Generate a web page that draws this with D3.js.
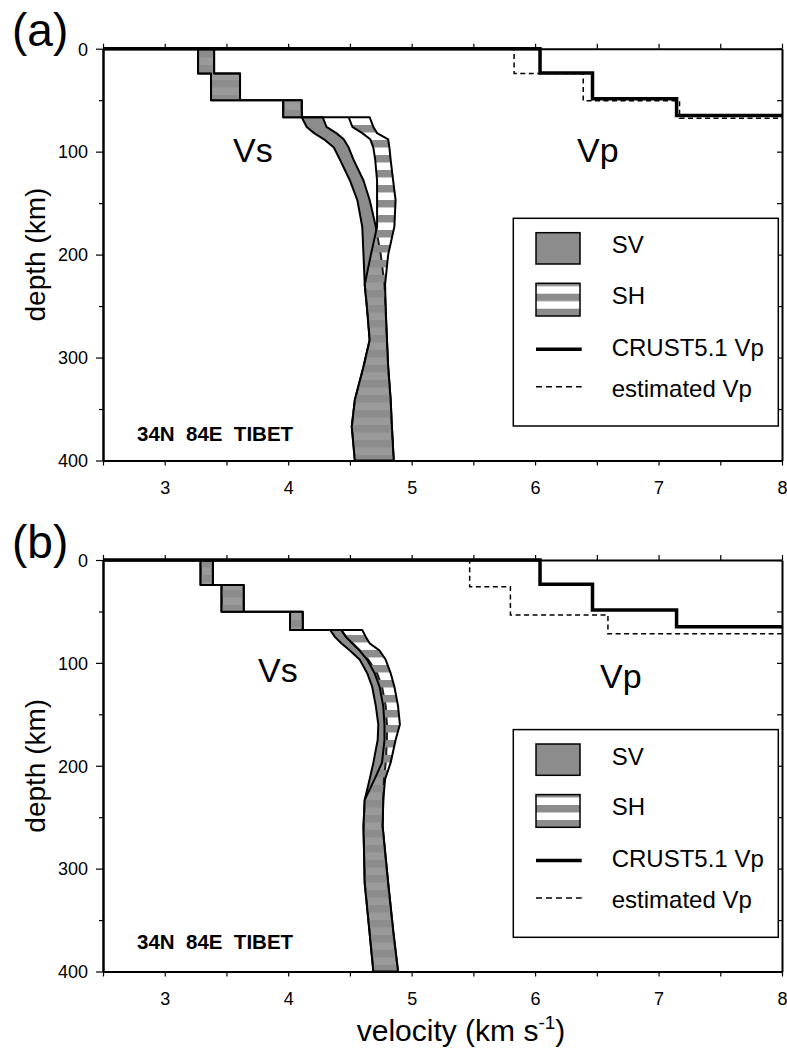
<!DOCTYPE html>
<html><head><meta charset="utf-8">
<script src="https://cdn.jsdelivr.net/npm/d3@7"></script>
<style>
body{margin:0;background:#fff}
svg{display:block}
text{font-family:"Liberation Sans",Arial,Helvetica,sans-serif;fill:#000}
</style>
</head><body>
<svg id="c" width="787" height="1048"></svg>
<script>
// ---------------- data ----------------
const velocityDomain = [2.5, 8];
const depthDomain = [0, 400];
const velocityMajorTicks = [3, 4, 5, 6, 7, 8];
const velocityMinorTicks = [2.5, 3, 3.5, 4, 4.5, 5, 5.5, 6, 6.5, 7, 7.5, 8];
const depthMajorTicks = [0, 100, 200, 300, 400];
const depthAllTicks = [0, 50, 100, 150, 200, 250, 300, 350, 400];
const depthMinorTicks = [50, 150, 250, 350];

const legendLabels = ["SV", "SH", "CRUST5.1 Vp", "estimated Vp"];
const panelLabels = ["(a)", "(b)"];
const locationLabel = "34N  84E  TIBET";

// CRUST5.1 Vp (layer tops, km; velocities, km/s)
const crustVpTops = [0, 23.5, 48.5, 65];
const crustVp = [6.04, 6.465, 7.146, 8.1];

// estimated Vp
const estVpTopsA = [0, 24, 50.5, 67.5];
const estVpA = [5.83, 6.39, 7.17, 8.1];
const estVpTopsB = [0, 25.9, 53.4, 71.8];
const estVpB = [5.47, 5.80, 6.59, 8.1];

// Vs bands, panel (a)
const depthA = [0, 24, 24, 50, 50, 66.6, 66.6, 76, 82, 88, 96, 108, 128, 147, 173, 200, 229, 254, 283, 309, 341, 367, 400];
const svMinA = [3.27, 3.27, 3.375, 3.375, 3.96, 3.96, 4.11, 4.15, 4.21, 4.29, 4.37, 4.42, 4.50, 4.56, 4.60, 4.61, 4.62, 4.64, 4.66, 4.61, 4.54, 4.515, 4.54];
const svMaxA = [3.40, 3.40, 3.61, 3.61, 4.11, 4.11, 4.28, 4.31, 4.39, 4.45, 4.49, 4.53, 4.61, 4.66, 4.71, 4.75, 4.78, 4.79, 4.80, 4.81, 4.83, 4.84, 4.855];
const shMinA = [3.27, 3.27, 3.375, 3.375, 3.96, 3.96, 4.49, 4.52, 4.60, 4.665, 4.69, 4.705, 4.72, 4.72, 4.72, 4.67, 4.62, 4.64, 4.66, 4.61, 4.54, 4.515, 4.54];
const shMaxA = [3.40, 3.40, 3.61, 3.61, 4.11, 4.11, 4.66, 4.69, 4.72, 4.81, 4.82, 4.83, 4.85, 4.87, 4.86, 4.81, 4.785, 4.79, 4.80, 4.81, 4.83, 4.84, 4.855];

// Vs bands, panel (b)
const depthB = [0, 24.3, 24.3, 50.2, 50.2, 68, 68, 75, 81, 88, 97, 110, 123, 142, 160, 175, 197, 213, 233, 259, 314, 363, 400];
const svMinB = [3.29, 3.29, 3.46, 3.46, 4.015, 4.015, 4.34, 4.38, 4.43, 4.50, 4.58, 4.64, 4.68, 4.71, 4.73, 4.725, 4.69, 4.66, 4.62, 4.61, 4.62, 4.66, 4.69];
const svMaxB = [3.39, 3.39, 3.64, 3.64, 4.118, 4.118, 4.43, 4.47, 4.52, 4.58, 4.65, 4.72, 4.76, 4.79, 4.80, 4.80, 4.79, 4.775, 4.77, 4.765, 4.81, 4.853, 4.89];
const shMinB = [3.29, 3.29, 3.46, 3.46, 4.015, 4.015, 4.43, 4.47, 4.52, 4.58, 4.64, 4.70, 4.74, 4.77, 4.78, 4.78, 4.76, 4.70, 4.62, 4.61, 4.62, 4.66, 4.69];
const shMaxB = [3.39, 3.39, 3.64, 3.64, 4.118, 4.118, 4.60, 4.63, 4.66, 4.74, 4.79, 4.83, 4.86, 4.89, 4.905, 4.87, 4.83, 4.785, 4.77, 4.765, 4.81, 4.853, 4.89];

// ---------------- drawing ----------------
const svg = d3.select("#c");
const GRAY = "#8c8c8c";
const defs = svg.append("defs");
const pat = defs.append("pattern").attr("id", "stripes")
  .attr("patternUnits", "userSpaceOnUse")
  .attr("x", 0).attr("y", 5).attr("width", 20).attr("height", 15);
pat.append("rect").attr("width", 20).attr("height", 7.5).attr("fill", GRAY);
pat.append("rect").attr("y", 7.5).attr("width", 20).attr("height", 7.5).attr("fill", "#fff").attr("fill-opacity", 0.12);

const x = d3.scaleLinear().domain(velocityDomain).range([103, 782]).clamp(true);

function stepPoints(tops, vels) {
  const pts = [[velocityDomain[0], tops[0]]];
  vels.forEach((v, i) => {
    pts.push([v, tops[i]]);
    if (i + 1 < vels.length) pts.push([v, tops[i + 1]]);
  });
  return pts;
}

function drawPanel(cfg) {
  const y = d3.scaleLinear().domain(depthDomain).range([cfg.top, cfg.bottom]);
  const g = svg.append("g");
  const rows = (dep, mn, mx) => dep.map((d, i) => ({ d, mn: mn[i], mx: mx[i] }));
  const area = d3.area().y(r => y(r.d)).x0(r => x(r.mn)).x1(r => x(r.mx));

  // SV band
  g.append("path").attr("d", area(rows(cfg.depth, cfg.svMin, cfg.svMax)))
    .attr("fill", GRAY).attr("stroke", "#000").attr("stroke-width", 2).attr("stroke-linejoin", "round");
  // SH band
  g.append("path").attr("d", area(rows(cfg.depth, cfg.shMin, cfg.shMax)))
    .attr("fill", "url(#stripes)").attr("stroke", "#000").attr("stroke-width", 2).attr("stroke-linejoin", "round");

  const line = d3.line().x(p => x(p[0])).y(p => y(p[1]));
  g.append("path").attr("d", line(stepPoints(cfg.estTops, cfg.est)))
    .attr("fill", "none").attr("stroke", "#000").attr("stroke-width", 1.5).attr("stroke-dasharray", "5,3.5");

  // frame
  const fr = g.append("g");
  const axL = fr.append("g").attr("transform", `translate(${x.range()[0]},0)`)
    .call(d3.axisLeft(y).tickValues(depthMajorTicks).tickSize(7).tickSizeOuter(0).tickPadding(8).tickFormat(d3.format("d")));
  fr.append("g").attr("transform", `translate(${x.range()[0]},0)`)
    .call(d3.axisLeft(y).tickValues(depthMinorTicks).tickSize(4).tickSizeOuter(0).tickFormat(""));
  fr.append("g").attr("transform", `translate(${x.range()[1]},0)`)
    .call(d3.axisLeft(y).tickValues(depthAllTicks).tickSize(5).tickSizeOuter(0).tickFormat(""));
  fr.append("g").attr("transform", `translate(0,${cfg.top})`)
    .call(d3.axisTop(x).tickValues(velocityMinorTicks).tickSize(5).tickSizeOuter(0).tickFormat(""));
  fr.append("g").attr("transform", `translate(0,${cfg.bottom})`)
    .call(d3.axisBottom(x).tickValues(velocityMinorTicks).tickSize(5).tickSizeOuter(0)
      .tickPadding(16).tickFormat(v => velocityMajorTicks.includes(v) ? d3.format("d")(v) : ""));
  fr.selectAll(".domain").attr("stroke", "#000").attr("stroke-width", 2);
  fr.selectAll(".tick line").attr("stroke", "#000").attr("stroke-width", 1.2);
  fr.selectAll("text").attr("font-family", null).style("font-size", "18px").attr("fill", "#000");
  axL.selectAll("text").attr("dy", "0.35em");

  // CRUST5.1 Vp solid line on top
  g.append("path").attr("d", line(stepPoints(crustVpTops, crustVp)))
    .attr("fill", "none").attr("stroke", "#000").attr("stroke-width", 3.5).attr("stroke-linejoin", "miter");

  // labels
  svg.append("text").attr("x", 12).attr("y", cfg.top - 2.5).style("font-size", "46px").text(cfg.label);
  svg.append("text").attr("transform", `translate(45,${(cfg.top + cfg.bottom) / 2}) rotate(-90)`)
    .attr("text-anchor", "middle").style("font-size", "28px").text("depth (km)");
  svg.append("text").attr("x", cfg.vsX).attr("y", cfg.top + cfg.vsDy).style("font-size", "34px").text("Vs");
  svg.append("text").attr("x", cfg.vpX).attr("y", cfg.top + cfg.vpDy).style("font-size", "34px").text("Vp");
  svg.append("text").attr("x", 137).attr("y", cfg.top + cfg.locDy).style("font-size", "20.5px")
    .style("font-weight", "bold").style("white-space", "pre").text(locationLabel);

  // legend
  const lg = svg.append("g").attr("transform", `translate(0,${cfg.top})`);
  lg.append("rect").attr("x", 513.3).attr("y", 169.6).attr("width", 265).attr("height", 207.7)
    .attr("fill", "#fff").attr("stroke", "#000").attr("stroke-width", 1.5);
  lg.append("rect").attr("x", 536).attr("y", 184).attr("width", 44).attr("height", 31.3)
    .attr("fill", GRAY).attr("stroke", "#000").attr("stroke-width", 1.5);
  lg.append("rect").attr("x", 536).attr("y", 234.6).attr("width", 44).attr("height", 32.7)
    .attr("fill", "url(#stripes)").attr("stroke", "#000").attr("stroke-width", 1.5);
  lg.append("line").attr("x1", 536).attr("x2", 581.7).attr("y1", 300.6).attr("y2", 300.6)
    .attr("stroke", "#000").attr("stroke-width", 3.5);
  lg.append("line").attr("x1", 536).attr("x2", 581.7).attr("y1", 338).attr("y2", 338)
    .attr("stroke", "#000").attr("stroke-width", 1.5).attr("stroke-dasharray", "6,4");
  const tys = [204.6, 255.3, 307, 348];
  legendLabels.forEach((t, i) => {
    lg.append("text").attr("x", 611.7).attr("y", tys[i]).style("font-size", "24px").text(t);
  });
}

drawPanel({ label: panelLabels[0], top: 48.7, bottom: 460.5, depth: depthA,
  svMin: svMinA, svMax: svMaxA, shMin: shMinA, shMax: shMaxA,
  estTops: estVpTopsA, est: estVpA, vsX: 233, vsDy: 113, vpX: 577, vpDy: 113, locDy: 392 });
drawPanel({ label: panelLabels[1], top: 560, bottom: 971.5, depth: depthB,
  svMin: svMinB, svMax: svMaxB, shMin: shMinB, shMax: shMaxB,
  estTops: estVpTopsB, est: estVpB, vsX: 258, vsDy: 122, vpX: 600, vpDy: 128, locDy: 389 });

// x-axis title
const xt = svg.append("text").attr("x", 461).attr("y", 1041).attr("text-anchor", "middle").style("font-size", "30px");
xt.append("tspan").text("velocity (km s");
xt.append("tspan").attr("dy", -12).style("font-size", "19px").text("-1");
xt.append("tspan").attr("dy", 12).text(")");
</script>
</body></html>
